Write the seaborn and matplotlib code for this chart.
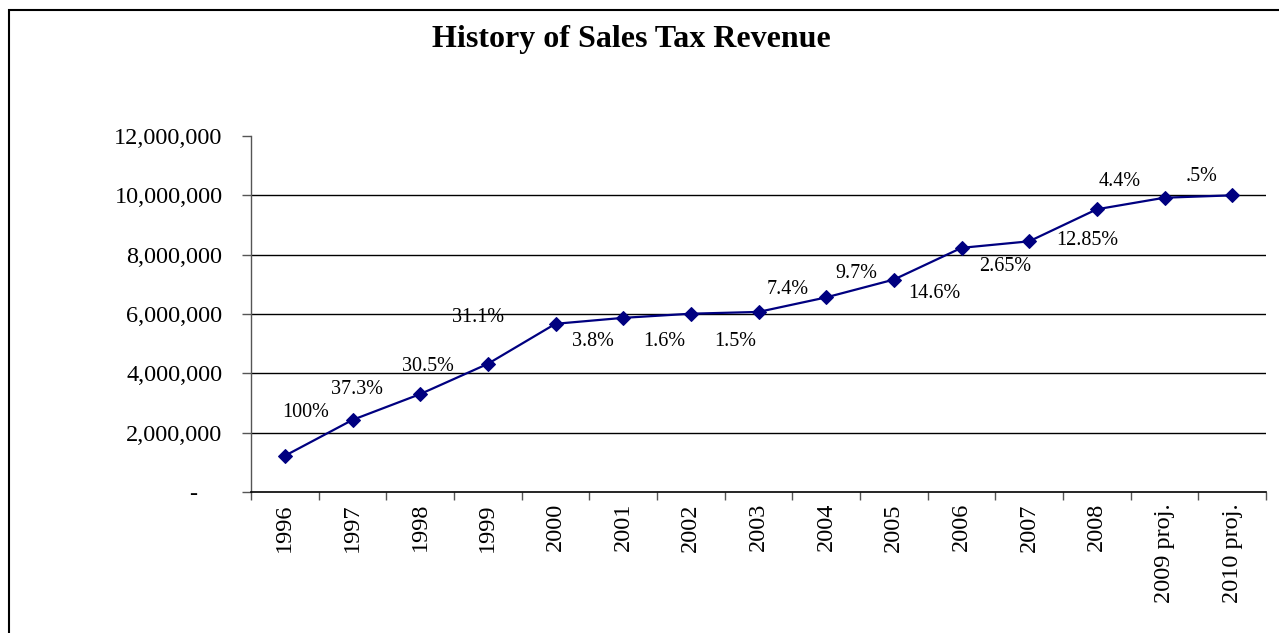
import pandas as pd
import seaborn as sns
import matplotlib.pyplot as plt
from matplotlib.patches import Rectangle
from matplotlib.ticker import FixedLocator, FuncFormatter

# 数据
years = ['1996', '1997', '1998', '1999', '2000', '2001', '2002', '2003',
         '2004', '2005', '2006', '2007', '2008', '2009 proj.', '2010 proj.']
revenue = [1220000, 2430000, 3300000, 4320000, 5670000, 5870000, 6010000, 6070000,
           6560000, 7160000, 8230000, 8450000, 9530000, 9920000, 10000000]
growth_labels = ['100%', '37.3%', '30.5%', '31.1%', '3.8%', '1.6%', '1.5%', '7.4%',
                 '9.7%', '14.6%', '2.65%', '12.85%', '4.4%', '.5%']
y_ticks = [0, 2000000, 4000000, 6000000, 8000000, 10000000, 12000000]

# 标签相对数据点的偏移（像素）
label_offsets = [(21, 43), (4, 30), (8, 28), (-10, 46), (37, -18), (41, -24), (44, -28),
                 (29, 22), (30, 24), (41, -14), (44, -19), (58, 1), (23, 28), (37, 21)]

df = pd.DataFrame({'year': years, 'revenue': revenue})

sns.set_style('white')
plt.rcParams['font.family'] = ['Liberation Serif', 'DejaVu Serif']
plt.rcParams['text.color'] = 'black'
plt.rcParams['xtick.color'] = 'black'
plt.rcParams['ytick.color'] = 'black'

fig = plt.figure(figsize=(12.79, 6.33), dpi=100)
ax = fig.add_axes([251 / 1279, 1 - 492 / 633, 1015 / 1279, 356 / 633])

sns.lineplot(data=df, x='year', y='revenue', ax=ax, color='#000080', linewidth=1.6,
             marker='D', markersize=7, markeredgecolor='#000080', sort=False)

ax.set_xlim(-0.5, len(years) - 0.5)
ax.set_ylim(0, 12000000)

# 坐标轴样式
for s in ['top', 'right']:
    ax.spines[s].set_visible(False)
ax.spines['left'].set_color('#555555')
ax.spines['bottom'].set_color('black')
ax.spines['left'].set_linewidth(1)
ax.spines['bottom'].set_linewidth(1.2)

ax.yaxis.set_major_locator(FixedLocator(y_ticks))
ax.yaxis.set_major_formatter(FuncFormatter(lambda v, p: '-    ' if v == 0 else f'{int(v):,}'))
ax.tick_params(axis='y', direction='out', length=6.5, width=1, color='#555555',
               labelcolor='black', pad=14, labelsize=17.5, left=True)
ax.yaxis.grid(True, color='black', linewidth=1)
ax.get_ygridlines()[-1].set_visible(False)
ax.get_ygridlines()[0].set_visible(False)

ax.set_xticks(range(len(years)))
ax.set_xticklabels(years, rotation=90, va='top', ha='center')
ax.xaxis.set_minor_locator(FixedLocator([i - 0.5 for i in range(len(years) + 1)]))
ax.tick_params(axis='x', which='major', length=0, pad=8, labelsize=17.5,
               labelcolor='black')
ax.tick_params(axis='x', which='minor', direction='out', length=6, width=1,
               color='#555555', bottom=True)
ax.set_xlabel('')
ax.set_ylabel('')

# 增长率标签
for i, lbl in enumerate(growth_labels):
    dx, dy = label_offsets[i]
    ax.annotate(lbl, (i, revenue[i]), xytext=(dx * 0.72, dy * 0.72),
                textcoords='offset points', ha='center', va='center',
                fontsize=14.5, color='black')

# 标题
fig.text(631 / 1279, 1 - 40 / 633, 'History of Sales Tax Revenue', ha='center',
         va='center', fontsize=23, fontweight='bold', color='black')

# 外框
fig.patches.append(Rectangle((9 / 1279, -0.1), 1.2, 1 - 10 / 633 + 0.1,
                             transform=fig.transFigure, fill=False,
                             edgecolor='black', linewidth=1.5))

fig.savefig('out.png', dpi=100)
